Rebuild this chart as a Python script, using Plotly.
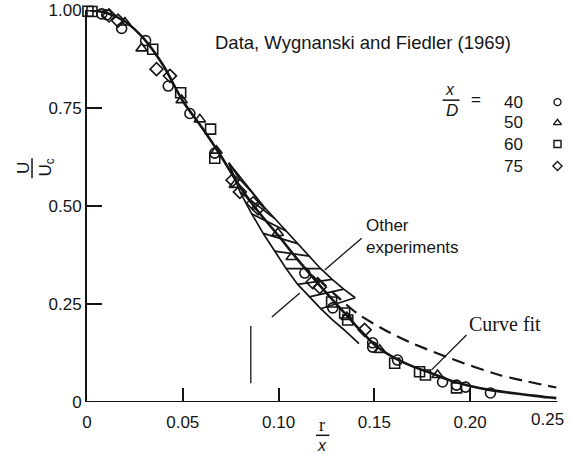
import plotly.graph_objects as go

# ---------------- data ----------------
curve_x = [0, 0.01, 0.02, 0.03, 0.04, 0.05, 0.06, 0.07, 0.08, 0.09, 0.10, 0.11, 0.12,
           0.13, 0.14, 0.15, 0.16, 0.17, 0.18, 0.19, 0.20, 0.21, 0.22, 0.23, 0.24, 0.245]
curve_y = [1.0, 0.993, 0.970, 0.925, 0.857, 0.768, 0.700, 0.627, 0.548, 0.482, 0.424, 0.363, 0.306,
           0.251, 0.197, 0.147, 0.114, 0.091, 0.073, 0.054, 0.041, 0.031, 0.024, 0.018, 0.012, 0.010]

fit_x = [0.12, 0.13, 0.1408, 0.155, 0.1684, 0.1893, 0.2153, 0.245]
fit_y = [0.318, 0.272, 0.227, 0.185, 0.153, 0.112, 0.069, 0.037]

band_lower_x = [0.074, 0.080, 0.086, 0.092, 0.098, 0.104, 0.110, 0.116, 0.122, 0.128, 0.134, 0.142]
band_lower_y = [0.610, 0.535, 0.480, 0.430, 0.385, 0.340, 0.300, 0.268, 0.238, 0.210, 0.185, 0.149]
band_upper_x = [0.074, 0.080, 0.086, 0.092, 0.098, 0.104, 0.110, 0.116, 0.122, 0.128, 0.134, 0.140]
band_upper_y = [0.610, 0.567, 0.535, 0.500, 0.468, 0.436, 0.404, 0.372, 0.340, 0.313, 0.288, 0.266]

c40_x = [0.0077, 0.0103, 0.0181, 0.0306, 0.0424, 0.0537, 0.0667, 0.1137, 0.1283, 0.1491,
         0.1491, 0.1621, 0.1856, 0.1929, 0.1976, 0.2106]
c40_y = [0.990, 0.988, 0.953, 0.922, 0.806, 0.736, 0.635, 0.329, 0.240, 0.151,
         0.140, 0.107, 0.051, 0.043, 0.038, 0.023]

t50_x = [0.0198, 0.0285, 0.0494, 0.0589, 0.0676, 0.0772, 0.0996, 0.1069, 0.1356, 0.1528, 0.1830]
t50_y = [0.968, 0.902, 0.770, 0.721, 0.641, 0.554, 0.431, 0.370, 0.217, 0.133, 0.069]

s60_x = [0.0005, 0.0026, 0.0343, 0.0489, 0.0645, 0.0667, 0.1277, 0.1345, 0.1361, 0.1606,
         0.1736, 0.1767, 0.1929]
s60_y = [0.997, 0.996, 0.900, 0.789, 0.696, 0.622, 0.255, 0.227, 0.209, 0.099,
         0.077, 0.069, 0.036]

d75_x = [0.0115, 0.0162, 0.0363, 0.0433, 0.0760, 0.0798, 0.0867, 0.0893, 0.1178, 0.1215, 0.1449]
d75_y = [0.986, 0.973, 0.849, 0.832, 0.566, 0.536, 0.507, 0.494, 0.306, 0.293, 0.184]

key_labels = ["40", "50", "60", "75"]
key_symbols = ["circle-open", "triangle-up-open", "square-open", "diamond-open"]

x_tick_vals = [0, 0.05, 0.10, 0.15, 0.20]
x_tick_text = ["0", "0.05", "0.10", "0.15", "0.20"]
x_last_label = "0.25"   # drawn flush with the right edge, as in the reference
y_tick_vals = [0, 0.25, 0.50, 0.75, 1.00]
y_tick_text = ["0", "0.25", "0.50", "0.75", "1.00"]

INK = "#151515"
SANS = "Liberation Sans, Arial, sans-serif"
SERIF = "Liberation Serif, Times New Roman, serif"

fig = go.Figure()

# hatched band "other experiments"
hx, hy = [], []
hx += band_lower_x + [None] + band_upper_x + [None]
hy += band_lower_y + [None] + band_upper_y + [None]
shift = 3
for i in range(len(band_lower_x) - shift):
    hx += [band_lower_x[i], band_upper_x[i + shift], None]
    hy += [band_lower_y[i], band_upper_y[i + shift], None]
fig.add_trace(go.Scatter(x=hx, y=hy, mode="lines", line=dict(color=INK, width=1.7),
                         hoverinfo="skip", showlegend=False))

# solid curve
fig.add_trace(go.Scatter(x=curve_x, y=curve_y, mode="lines",
                         line=dict(color=INK, width=2.6, shape="spline", smoothing=0.8),
                         showlegend=False, cliponaxis=False))
# dashed curve fit
fig.add_trace(go.Scatter(x=fit_x, y=fit_y, mode="lines",
                         line=dict(color=INK, width=2.2, dash="13px,7px", shape="spline", smoothing=0.8),
                         showlegend=False, cliponaxis=False))

series = [(c40_x, c40_y), (t50_x, t50_y), (s60_x, s60_y), (d75_x, d75_y)]
for (sx, sy), sym, lab in zip(series, key_symbols, key_labels):
    fig.add_trace(go.Scatter(x=sx, y=sy, mode="markers", name=lab,
                             marker=dict(symbol=sym, size=10, color=INK, line=dict(color=INK, width=1.6)),
                             showlegend=False, cliponaxis=False))

# manual key (symbols right of the numbers)
key_x = 0.2456
key_num_x = 0.2164
key_rows_y = [0.765, 0.712, 0.658, 0.602]
fig.add_trace(go.Scatter(x=[key_x] * 4, y=key_rows_y, mode="markers",
                         marker=dict(symbol=key_symbols, size=7, color=INK, line=dict(color=INK, width=1.4)),
                         showlegend=False, cliponaxis=False, hoverinfo="skip"))

annotations = []
for lab, yy in zip(key_labels, key_rows_y):
    annotations.append(dict(x=key_num_x, y=yy, text=lab, xanchor="left", yanchor="middle",
                            showarrow=False, font=dict(family=SANS, size=17, color=INK)))
annotations += [
    dict(x=0.1893, y=0.798, text="<i>x</i>", showarrow=False, xanchor="center", yanchor="middle",
         font=dict(family=SANS, size=16, color=INK)),
    dict(x=0.1903, y=0.743, text="<i>D</i>", showarrow=False, xanchor="center", yanchor="middle",
         font=dict(family=SANS, size=17, color=INK)),
    dict(x=0.2033, y=0.772, text="=", showarrow=False, xanchor="center", yanchor="middle",
         font=dict(family=SANS, size=17, color=INK)),
    dict(x=0.0660, y=0.918, text="Data, Wygnanski and Fiedler (1969)", showarrow=False,
         xanchor="left", yanchor="middle", font=dict(family=SANS, size=18.5, color=INK)),
    dict(x=0.1445, y=0.421, text="Other<br>experiments", showarrow=False, align="left",
         xanchor="left", yanchor="middle", font=dict(family=SANS, size=17, color=INK)),
    dict(x=0.1985, y=0.200, text="Curve fit", showarrow=False, xanchor="left", yanchor="middle",
         font=dict(family=SERIF, size=20, color=INK)),
]
for a in annotations:
    a["xref"] = "x"
    a["yref"] = "y"

# axis titles (fractions) and the edge tick label, placed in paper coordinates
annotations += [
    dict(xref="paper", yref="paper", x=-0.1315, y=0.597, text="U", textangle=-90, showarrow=False,
         xanchor="center", yanchor="middle", font=dict(family=SANS, size=17, color=INK)),
    dict(xref="paper", yref="paper", x=-0.0845, y=0.597, text="U<sub>c</sub>", textangle=-90,
         showarrow=False, xanchor="center", yanchor="middle", font=dict(family=SANS, size=17, color=INK)),
    dict(xref="paper", yref="paper", x=0.4906, y=-0.0590, text="r", showarrow=False,
         xanchor="center", yanchor="middle", font=dict(family=SERIF, size=18, color=INK)),
    dict(xref="paper", yref="paper", x=0.4906, y=-0.1100, text="<i>x</i>", showarrow=False,
         xanchor="center", yanchor="middle", font=dict(family=SANS, size=16, color=INK)),
    dict(xref="paper", yref="paper", x=1.0, y=-0.0445, text=x_last_label, showarrow=False,
         xanchor="right", yanchor="middle", font=dict(family=SANS, size=17, color=INK)),
]

line_style = dict(color=INK, width=1.3)
shapes = [
    # x axis line (ends short of 0.25)
    dict(type="line", xref="x", yref="y", x0=0, y0=0, x1=0.2456, y1=0, line=dict(color=INK, width=2)),
    # leader lines
    dict(type="line", xref="x", yref="y", x0=0.1434, y0=0.418, x1=0.1241, y1=0.337, line=line_style),
    dict(type="line", xref="x", yref="y", x0=0.1111, y0=0.278, x1=0.0965, y1=0.217, line=line_style),
    dict(type="line", xref="x", yref="y", x0=0.1981, y0=0.171, x1=0.1799, y1=0.082, line=line_style),
    # stray vertical mark
    dict(type="line", xref="x", yref="y", x0=0.0855, y0=0.048, x1=0.0855, y1=0.194, line=line_style),
    # key fraction bar
    dict(type="line", xref="x", yref="y", x0=0.1856, y0=0.770, x1=0.1945, y1=0.770,
         line=dict(color=INK, width=1.5)),
    # axis-title fraction bars
    dict(type="line", xref="paper", yref="paper", x0=-0.1148, y0=0.571, x1=-0.1148, y1=0.622,
         line=dict(color=INK, width=1.5)),
    dict(type="line", xref="paper", yref="paper", x0=0.478, y0=-0.085, x1=0.506, y1=-0.085,
         line=dict(color=INK, width=1.5)),
]

fig.update_layout(
    width=570, height=454,
    margin=dict(l=87, r=4, t=10, b=52, autoexpand=False),
    paper_bgcolor="white", plot_bgcolor="white",
    showlegend=False,
    annotations=annotations,
    shapes=shapes,
    xaxis=dict(range=[0, 0.25005], showgrid=False, zeroline=False, showline=False, automargin=False,
               tickmode="array", tickvals=x_tick_vals, ticktext=x_tick_text, ticks="",
               ticklabelstandoff=8,
               tickfont=dict(family=SANS, size=17, color=INK),
               minor=dict(tickmode="array", tickvals=x_tick_vals[1:5], ticks="inside",
                          ticklen=14, tickwidth=1.6, tickcolor=INK, showgrid=False)),
    yaxis=dict(range=[0, 1.0], showgrid=False, zeroline=False, showline=True, linecolor=INK, linewidth=2,
               automargin=False,
               tickmode="array", tickvals=y_tick_vals, ticktext=y_tick_text, ticks="",
               ticklabelstandoff=0,
               tickfont=dict(family=SANS, size=17, color=INK),
               minor=dict(tickmode="array", tickvals=y_tick_vals[1:4], ticks="inside",
                          ticklen=15, tickwidth=1.6, tickcolor=INK, showgrid=False)),
)

fig.write_html("out.html", config={"displayModeBar": False},
               post_script="document.body.style.margin='0';document.body.style.overflow='hidden';")
